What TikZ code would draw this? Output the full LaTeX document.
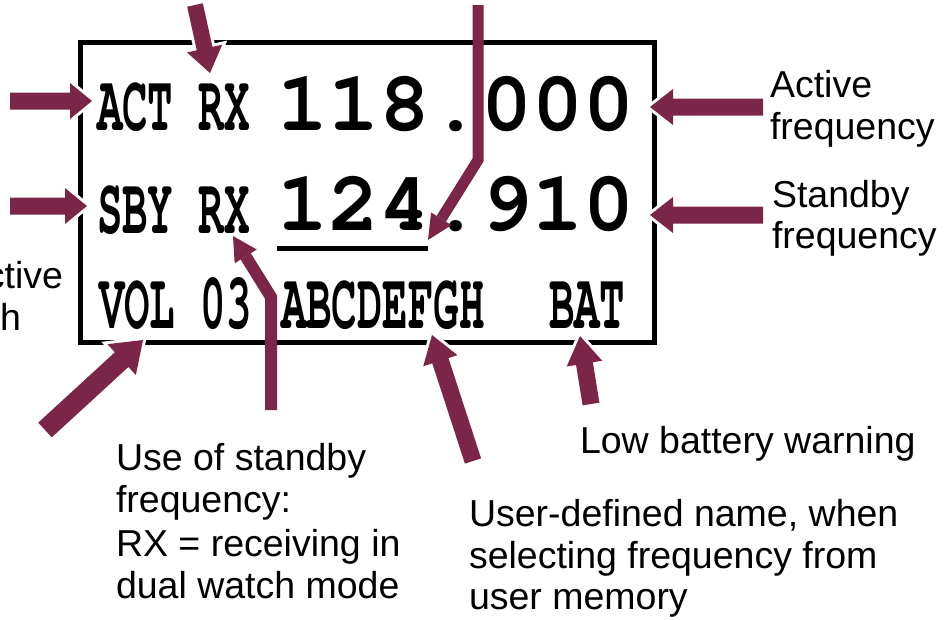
\documentclass[tikz,border=0pt]{standalone}
\usepackage{fontspec}
\usetikzlibrary{calc}
\newfontfamily\lab{Liberation Sans}
\newfontfamily\lcd{TeX Gyre Cursor}
\definecolor{arrowcol}{RGB}{123,38,72}
\newcommand\lcdsmall[1]{\scalebox{0.53}[1]{\lcd\bfseries\fontsize{80}{80}\selectfont #1}}
\newcommand\lcdbig[1]{{\lcd\bfseries\fontsize{85}{85}\selectfont #1}}
% straight block arrow: from, to, shaft half width, head half width, head length
\newcommand\blockarrow[5]{%
  \coordinate (hb) at ($(#2)!#5!(#1)$);
  \fill[arrowcol, preaction={draw=white, line width=6pt, line join=miter}]
    ($(#1)!#3!90:(#2)$) -- ($(hb)!#3!90:(#2)$) -- ($(hb)!#4!90:(#2)$) -- (#2)
    -- ($(hb)!#4!-90:(#2)$) -- ($(hb)!#3!-90:(#2)$) -- ($(#1)!#3!-90:(#2)$) -- cycle;}
% bent arrow: tail, bend, tip, shaft width, head half width, head length
\newcommand\bentarrow[6]{%
  \coordinate (hb) at ($(#3)!#6!(#2)$);
  \draw[arrowcol, line width=#4, line join=miter, line cap=butt] (#1) -- (#2) -- (hb);
  \fill[arrowcol] ($(hb)!#5!90:(#3)$) -- (#3) -- ($(hb)!#5!-90:(#3)$) -- cycle;}
\begin{document}
\begin{tikzpicture}[x=1pt,y=-1pt,
  lcdtext/.style={anchor=base west, inner sep=0pt, outer sep=0pt},
  labeltext/.style={anchor=base west, inner sep=0pt, outer sep=0pt, font=\lab\fontsize{37.5}{42}\selectfont},
  lcdframe/.style={draw, line width=5pt, inner sep=0pt, outer sep=0pt}]
\useasboundingbox (0,0) rectangle (951,619);
\fill[white] (0,0) rectangle (951,619);

% display frame
\node[lcdframe, minimum width=574pt, minimum height=300pt, anchor=north west] (frame) at (80.5,42.5) {};

% display contents
\node[lcdtext] (act)  at (97,130)  {\lcdsmall{ACT RX}};
\node[lcdtext] (sby)  at (97,233)  {\lcdsmall{SBY RX}};
\node[lcdtext] (vol)  at (99,328)  {\lcdsmall{VOL 03}};
\node[lcdtext] (name) at (281,328) {\lcdsmall{ABCDEFGH}};
\node[lcdtext] (bat)  at (549,328) {\lcdsmall{BAT}};
\node[lcdtext] (actf) at (277,130) {\lcdbig{118.000}};
\node[lcdtext] (sbyf) at (277,230) {\lcdbig{124.910}};
\coordinate (ul1) at (277,248);
\coordinate (ul2) at (428,248);
\draw[line width=5pt] (ul1) -- (ul2);

% labels
\node[labeltext, anchor=base east] (l1a) at (63,288) {ctive};
\node[labeltext] (l1b) at (0,330) {h};
\node[labeltext] (l2a) at (770,97)  {Active};
\node[labeltext] (l2b) at (770,139) {frequency};
\node[labeltext] (l3a) at (772,207) {Standby};
\node[labeltext] (l3b) at (772,248) {frequency};
\node[labeltext] (l4)  at (580,453) {Low battery warning};
\node[labeltext] (l5a) at (469,526) {User-defined name, when};
\node[labeltext] (l5b) at (469,568) {selecting frequency from};
\node[labeltext] (l5c) at (469,609) {user memory};
\node[labeltext] (l6a) at (116,470) {Use of standby};
\node[labeltext] (l6b) at (116,512) {frequency:};
\node[labeltext] (l6c) at (116,556) {RX = receiving in};
\node[labeltext] (l6d) at (116,598) {dual watch mode};

% arrow end points
\coordinate (a1s) at (195,5);   \coordinate (a1t) at (210,73);
\coordinate (a2s) at (10,101);  \coordinate (a2t) at (92,101);
\coordinate (a3s) at (10,206);  \coordinate (a3t) at (87,206);
\coordinate (a4s) at (763,107); \coordinate (a4t) at (650,107);
\coordinate (a5s) at (763,215); \coordinate (a5t) at (650,215);
\coordinate (a6s) at (45,430);  \coordinate (a6t) at (143,340);
\coordinate (a7s) at (473,461); \coordinate (a7t) at (432,335);
\coordinate (a8s) at (591,404); \coordinate (a8t) at (580,336);
\coordinate (b1s) at (271,410); \coordinate (b1m) at (271,297); \coordinate (b1t) at (233,236);
\coordinate (b2s) at (478,5);   \coordinate (b2m) at (478,160); \coordinate (b2t) at (428,240);

\blockarrow{a1s}{a1t}{8pt}{18pt}{25pt}
\blockarrow{a2s}{a2t}{8.5pt}{18pt}{22pt}
\blockarrow{a3s}{a3t}{8.5pt}{18pt}{22pt}
\blockarrow{a4s}{a4t}{8.5pt}{18pt}{23pt}
\blockarrow{a5s}{a5t}{8.5pt}{18pt}{23pt}
\blockarrow{a6s}{a6t}{10pt}{21pt}{29pt}
\blockarrow{a7s}{a7t}{8.5pt}{18pt}{27pt}
\blockarrow{a8s}{a8t}{8.5pt}{18pt}{28pt}
\bentarrow{b1s}{b1m}{b1t}{12pt}{13pt}{24pt}
\bentarrow{b2s}{b2m}{b2t}{11pt}{12pt}{25pt}
\end{tikzpicture}
\end{document}
